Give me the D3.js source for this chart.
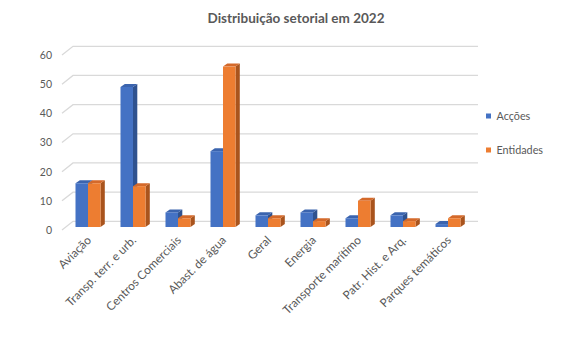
<!DOCTYPE html>
<html><head><meta charset="utf-8">
<script src="https://cdn.jsdelivr.net/npm/d3@7"></script>
<style>
html,body{margin:0;padding:0;background:#fff;}
svg{display:block;font-family:Lato,"Open Sans",sans-serif;}
</style></head>
<body>
<svg id="chart" width="567" height="346"></svg>
<script>
const categories = ["Aviação","Transp. terr. e urb.","Centros Comerciais","Abast. de água","Geral","Energia","Transporte marítimo","Patr. Hist. e Arq.","Parques temáticos"];
const accoes = [15,48,5,26,4,5,3,4,1];
const entidades = [15,14,3,55,3,2,9,2,3];
const yTicks = [0,10,20,30,40,50,60];
const seriesNames = ["Acções","Entidades"];
const title = "Distribuição setorial em 2022";

const svg = d3.select("#chart");
const W = 567, H = 346;
svg.append("rect").attr("width",W).attr("height",H).attr("fill","#fff");

// floor/wall depth offset
const DX = 11, DY = -8.7;
// bar position inside depth
const BX = 3.5, BY = -3;
// bar thickness depth
const TX = 4.3, TY = -3;

const y = d3.scaleLinear().domain([0,60]).range([230,55]);
const x = d3.scaleBand().domain(categories).range([62,467]).padding(0);
const xb = d3.scaleBand().domain(categories).range([62+BX,467+BX]).padding(0);
const half = 12.5;

// title
svg.append("text").attr("x",296).attr("y",23).attr("text-anchor","middle")
  .attr("font-size",13.5).attr("font-weight","bold").attr("fill","#595959").text(title);

// gridlines
const grid = svg.append("g");
yTicks.forEach(t=>{
  const yf = y(t);
  grid.append("path")
    .attr("d",`M${x.range()[0]},${yf}L${x.range()[0]+DX},${yf+DY}H${x.range()[1]+DX}`)
    .attr("fill","none").attr("stroke","#D9D9D9").attr("stroke-width",1.3);
});

// y axis labels
const yAxis = svg.append("g").attr("transform","translate(58,0)")
  .call(d3.axisLeft(y).tickValues(yTicks).tickSize(0).tickPadding(6));
yAxis.select(".domain").remove();
yAxis.selectAll("text").attr("font-family","Lato,'Open Sans',sans-serif").attr("font-size",10.5).attr("fill","#595959");

// bars
const colors = [
  {front:"#4472C4", top:"#3B64AE", side:"#2F528F"},
  {front:"#ED7D31", top:"#D4692A", side:"#A9541D"}
];
const series = [accoes, entidades];
const barsG = svg.append("g");
categories.forEach((c,i)=>{
  series.forEach((vals,s)=>{
    const v = vals[i];
    const x0 = xb(c) + xb.bandwidth()/2 - half + s*half;
    const x1 = x0 + half;
    const yb = y(0) + BY;
    const yt = y(v) + BY;
    const col = colors[s];
    const g = barsG.append("g");
    g.append("path").attr("d",`M${x1},${yb}L${x1+TX},${yb+TY}L${x1+TX},${yt+TY}L${x1},${yt}Z`).attr("fill",col.side);
    g.append("path").attr("d",`M${x0},${yt}L${x0+TX},${yt+TY}L${x1+TX},${yt+TY}L${x1},${yt}Z`).attr("fill",col.top);
    g.append("rect").attr("x",x0).attr("y",yt).attr("width",half).attr("height",Math.max(0,yb-yt)).attr("fill",col.front);
  });
});

// x axis labels
const xAxis = svg.append("g").attr("transform","translate(0,238)")
  .call(d3.axisBottom(xb).tickSize(0).tickPadding(0));
xAxis.select(".domain").remove();
xAxis.selectAll("text")
  .attr("font-family","Lato,'Open Sans',sans-serif").attr("font-size",11.8).attr("fill","#595959")
  .attr("text-anchor","end").attr("x",0).attr("y",0).attr("dy","0.35em")
  .attr("transform","translate(1,0) rotate(-45)");

// legend
const leg = svg.append("g");
seriesNames.forEach((n,s)=>{
  const ly = 116 + s*34;
  leg.append("rect").attr("x",486).attr("y",ly-2.5).attr("width",5).attr("height",5).attr("fill",colors[s].front);
  leg.append("text").attr("x",496.5).attr("y",ly).attr("dy","0.35em").attr("font-size",10.8).attr("fill","#595959").text(n);
});
</script>
</body></html>
